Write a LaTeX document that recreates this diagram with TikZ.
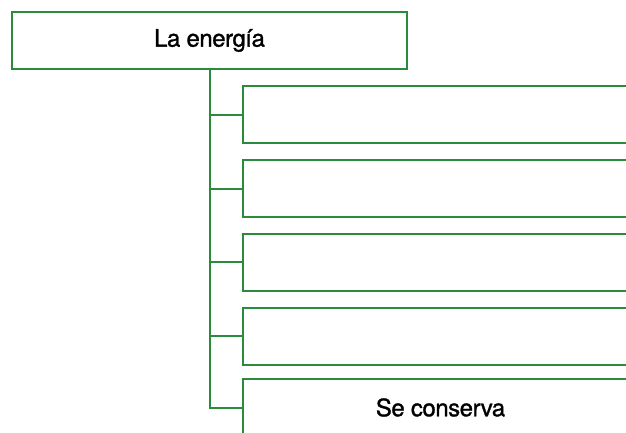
\documentclass[tikz,border=0pt]{standalone}
\usepackage{fontspec}
\setmainfont{TeX Gyre Heros}
\newfontfamily\labelfont[FakeBold=1.2,LetterSpace=-2]{TeX Gyre Heros}
\definecolor{boxgreen}{RGB}{40,140,60}
\begin{document}
\begin{tikzpicture}[x=1pt,y=-1pt,
  box/.style={draw=boxgreen,line width=2pt,rectangle,minimum width=395pt,minimum height=57pt,inner sep=0pt,font=\labelfont\fontsize{24}{28}\selectfont},
  link/.style={draw=boxgreen,line width=2pt}]
\useasboundingbox (0,0) rectangle (626,432);
\clip (0,0) rectangle (626,432);
\node[box] (top) at (209.5,40.5) {La energía};
\node[box,anchor=west] (b1) at (242,114.5) {};
\node[box,anchor=west] (b2) at (242,188.5) {};
\node[box,anchor=west] (b3) at (242,262) {};
\node[box,anchor=west] (b4) at (242,336) {};
\node[box,anchor=west] (b5) at (242,407.5) {Se conserva};
\draw[link] (top.south) |- (b5.west);
\foreach \b in {b1,b2,b3,b4}{
  \draw[link] (top.south |- \b.west) -- (\b.west);
}
\end{tikzpicture}
\end{document}
